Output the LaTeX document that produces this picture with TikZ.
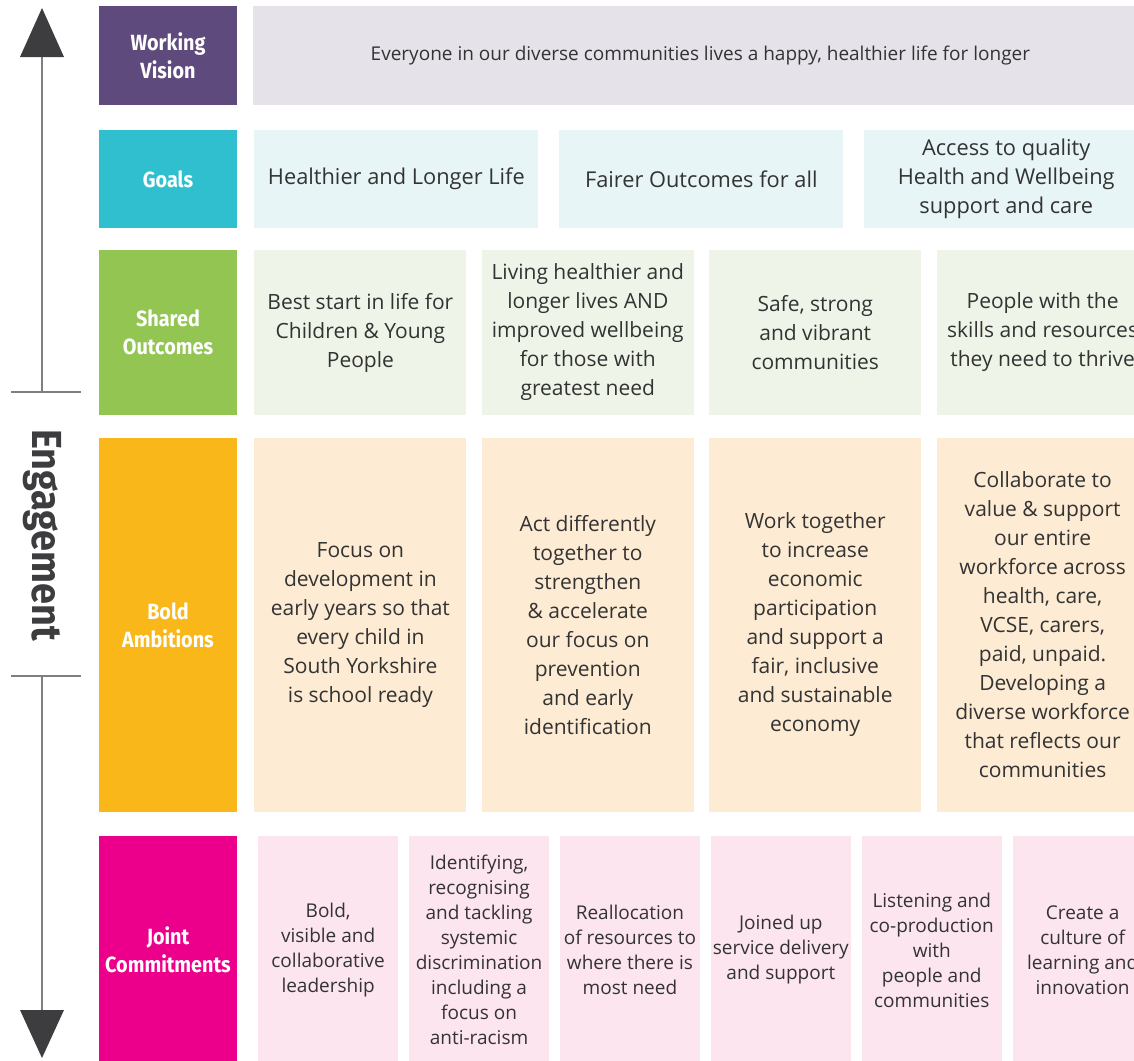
\documentclass[tikz,border=0pt]{standalone}
\usepackage{fontspec}
\setmainfont{Open Sans}
\newfontfamily\lblfont[FakeStretch=0.9]{Fira Sans}
\usetikzlibrary{positioning}

\definecolor{vispurple}{HTML}{5E4A7C}
\definecolor{goalteal}{HTML}{30BFCF}
\definecolor{outgreen}{HTML}{93C553}
\definecolor{ambamber}{HTML}{F9B71A}
\definecolor{compink}{HTML}{EC008B}
\definecolor{visfill}{HTML}{E5E2E9}
\definecolor{goalfill}{HTML}{E7F5F6}
\definecolor{outfill}{HTML}{EEF5E8}
\definecolor{ambfill}{HTML}{FDEBD3}
\definecolor{comfill}{HTML}{FCE5EF}
\definecolor{txtgray}{HTML}{333333}
\definecolor{axisgray}{HTML}{7F7F7F}
\definecolor{tipgray}{HTML}{3D3D3F}

\tikzset{
	lbl/.style={fill=#1, text=white, align=center, inner sep=0pt,
		minimum width=138, font=\lblfont\bfseries\fontsize{22}{28}\selectfont},
	cell/.style={fill=#1, text=txtgray, align=center, inner sep=0pt},
	vis/.style={cell=visfill, minimum width=894, minimum height=99,
		font=\fontsize{19}{24}\selectfont},
	goal/.style={cell=goalfill, minimum width=284, minimum height=98,
		font=\fontsize{21.8}{29}\selectfont},
	outc/.style={cell=outfill, minimum width=212, minimum height=165,
		font=\fontsize{21}{29}\selectfont},
	amb/.style={cell=ambfill, minimum width=212, minimum height=374,
		font=\fontsize{21}{29}\selectfont},
	comm/.style={cell=comfill, minimum width=139.5, minimum height=228,
		font=\fontsize{19}{25}\selectfont},
	axis/.style={draw=axisgray, line width=2pt},
	tip/.style={fill=tipgray}
}

\begin{document}
\begin{tikzpicture}[x=1pt, y=-1pt]
	\useasboundingbox (0,0) rectangle (1134,1060);
	\clip (0,0) rectangle (1134,1060);

	% row labels
	\node[lbl=vispurple, minimum height=99] (wv) at (168,55.5) {Working\\Vision};
	\node[lbl=goalteal, minimum height=98] (gl) at (168,179) {Goals};
	\node[lbl=outgreen, minimum height=165] (so) at (168,332.5) {Shared\\Outcomes};
	\node[lbl=ambamber, minimum height=374] (ba) at (168,625) {Bold\\Ambitions};
	\node[lbl=compink, minimum height=228] (jc) at (168,950) {Joint\\Commitments};

	% working vision
	\node[vis, right=16 of wv] (v1) {Everyone in our diverse communities lives a happy, healthier life for longer};

	% goals
	\node[goal, right=17 of gl] (g1) {Healthier and Longer Life};
	\node[goal, right=20.5 of g1] (g2) {Fairer Outcomes for all};
	\node[goal, right=20.5 of g2] (g3) {Access to quality\\Health and Wellbeing\\support and care};

	% shared outcomes
	\node[outc, right=17 of so] (o1) {Best start in life for\\Children \& Young\\People};
	\node[outc, right=15 of o1] (o2) {Living healthier and\\longer lives AND\\improved wellbeing\\for those with\\greatest need};
	\node[outc, right=15 of o2] (o3) {Safe, strong\\and vibrant\\communities};
	\node[outc, right=15 of o3] (o4) {People with the\\skills and resources\\they need to thrive};

	% bold ambitions
	\node[amb, right=17 of ba] (a1) {Focus on\\development in\\early years so that\\every child in\\South Yorkshire\\is school ready};
	\node[amb, right=15 of a1] (a2) {Act differently\\together to\\strengthen\\\& accelerate\\our focus on\\prevention\\and early\\identification};
	\node[amb, right=15 of a2] (a3) {Work together\\to increase\\economic\\participation\\and support a\\fair, inclusive\\and sustainable\\economy};
	\node[amb, right=15 of a3] (a4) {Collaborate to\\value \& support\\our entire\\workforce across\\health, care,\\VCSE, carers,\\paid, unpaid.\\Developing a\\diverse workforce\\that reflects our\\communities};

	% joint commitments
	\node[comm, right=21 of jc] (c1) {Bold,\\visible and\\collaborative\\leadership};
	\node[comm, right=11 of c1] (c2) {Identifying,\\recognising\\and tackling\\systemic\\discrimination\\including a\\focus on\\anti-racism};
	\node[comm, right=11 of c2] (c3) {Reallocation\\of resources to\\where there is\\most need};
	\node[comm, right=11 of c3] (c4) {Joined up\\service delivery\\and support};
	\node[comm, right=11 of c4] (c5) {Listening and\\co-production\\with\\people and\\communities};
	\node[comm, right=11 of c5] (c6) {Create a\\culture of\\learning and\\innovation};

	% engagement axis
	\coordinate (uptip) at (42,8);
	\coordinate (upbase) at (42,57);
	\coordinate (uptick) at (42,392);
	\coordinate (lotick) at (42,676);
	\coordinate (lobase) at (42,1010);
	\coordinate (lotip) at (42,1058);
	\node[rotate=-90, text=tipgray, font=\lblfont\bfseries\fontsize{42}{46}\selectfont] (eng) at (42,535) {Engagement};

	\draw[axis] (upbase) -- (uptick);
	\draw[axis] ([xshift=-31]uptick) -- ([xshift=39]uptick);
	\draw[axis] ([xshift=-31]lotick) -- ([xshift=39]lotick);
	\draw[axis] (lotick) -- (lobase);
	\fill[tip] (uptip) -- ([xshift=-22]upbase) -- ([xshift=22]upbase) -- cycle;
	\fill[tip] (lotip) -- ([xshift=-22]lobase) -- ([xshift=22]lobase) -- cycle;
\end{tikzpicture}
\end{document}
